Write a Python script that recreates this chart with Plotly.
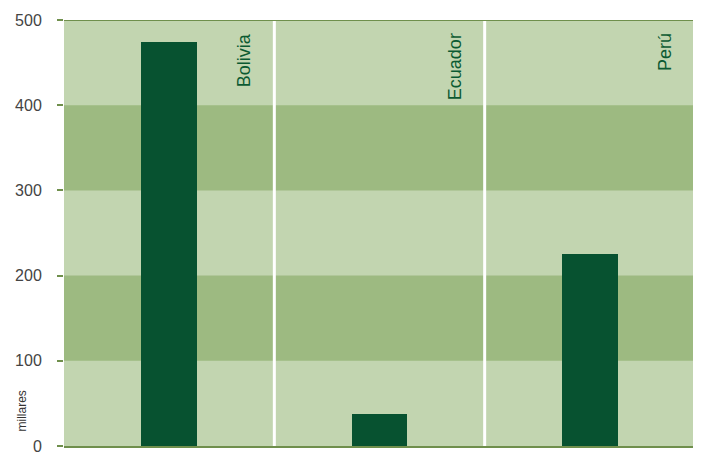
import plotly.graph_objects as go

categories = ["Bolivia", "Ecuador", "Perú"]
values = [474, 38, 225]
y_ticks = [0, 100, 200, 300, 400, 500]
y_title = "millares"

LIGHT = "#C2D5B0"
DARK = "#9DBA81"
BAR = "#075230"
OLIVE = "#6F8F4C"
LABEL = "#0B5A32"

# page body has an 8px default margin; figure is offset by it
W, H = 693, 444
ML, MT, MR, MB = 56, 12, 6, 6
PW, PH = W - ML - MR, H - MT - MB

fig = go.Figure()
fig.add_trace(go.Bar(
    x=categories, y=values, width=0.265,
    marker=dict(color=BAR, line=dict(width=0)),
    hoverinfo="skip",
))

shapes = []
for lo in (100, 300):
    shapes.append(dict(type="rect", xref="paper", yref="y", x0=0, x1=1, y0=lo, y1=lo + 100,
                       fillcolor=DARK, line=dict(width=0), layer="below"))
for xs in (0.5, 1.5):
    shapes.append(dict(type="line", xref="x", yref="paper", x0=xs, x1=xs, y0=0, y1=1,
                       line=dict(color="white", width=3), layer="below"))
shapes.append(dict(type="line", xref="paper", yref="y", x0=0, x1=1, y0=500, y1=500,
                   line=dict(color=OLIVE, width=2)))
fig.update_layout(shapes=shapes)

for i, c in enumerate(categories):
    fig.add_annotation(x=i + 0.357, y=487, xref="x", yref="y", text=c, textangle=-90,
                       showarrow=False, xanchor="center", yanchor="top",
                       font=dict(family="Liberation Sans, Arial", size=18, color=LABEL))

fig.add_annotation(x=(21 - 64) / PW, y=(446 - 433) / PH, xref="paper", yref="paper",
                   text=y_title, textangle=-90,
                   showarrow=False, xanchor="center", yanchor="bottom",
                   font=dict(family="Liberation Sans, Arial", size=12, color="#333333"))

fig.update_layout(
    width=W, height=H,
    margin=dict(l=ML, r=MR, t=MT, b=MB, autoexpand=False),
    paper_bgcolor="white", plot_bgcolor=LIGHT,
    showlegend=False,
    bargap=0,
    xaxis=dict(range=[-0.5, 2.5], showticklabels=False, showgrid=False, zeroline=False,
               showline=True, linecolor=OLIVE, linewidth=2, ticks="", fixedrange=True,
               automargin=False),
    yaxis=dict(range=[0, 500], tickvals=y_ticks, showgrid=False, zeroline=False,
               ticks="outside", ticklen=6, tickcolor=OLIVE, tickwidth=2,
               ticklabelstandoff=12, ticklabeloverflow="allow",
               tickfont=dict(family="Liberation Sans, Arial", size=16, color="#444444"),
               showline=False, fixedrange=True, automargin=False),
)

fig.write_html("out.html")
